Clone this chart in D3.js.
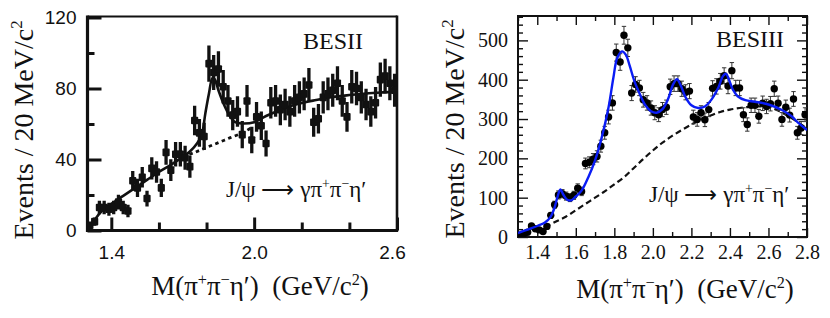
<!DOCTYPE html>
<html>
<head>
<meta charset="utf-8">
<script src="https://cdn.jsdelivr.net/npm/d3@7"></script>
<style>
html,body{margin:0;padding:0;background:#fff;}
svg{display:block;}
</style>
</head>
<body>
<svg id="chart" width="830" height="318"></svg>
<script>
// ---------------- DATA ----------------
// Left panel (BESII)
const besiiMass = [1.31,1.33,1.35,1.37,1.39,1.41,1.43,1.45,1.47,1.49,1.51,1.53,1.55,1.57,1.59,1.61,1.63,1.65,1.67,1.69,
  1.71,1.73,1.75,1.77,1.79,1.81,1.83,1.85,1.87,1.89,1.91,1.93,1.95,1.97,1.99,2.01,2.03,2.05,2.07,2.09,
  2.11,2.13,2.15,2.17,2.19,2.21,2.23,2.25,2.27,2.29,2.31,2.33,2.35,2.37,2.39,2.41,2.43,2.45,2.47,2.49,
  2.51,2.53,2.55,2.57,2.59];
const besiiEvents = [3,5,13,13,12,13,16,13,11,28,24,30,18,35,33,24,44,34,43,43,
  41,36,62,55,53,94,89,91,81,73,65,67,54,73,51,64,59,49,72,73,
  68,71,67,73,75,77,82,61,63,75,77,79,83,73,64,81,80,75,71,67,
  72,85,87,83,79];
const besiiFitMass = [1.30,1.33,1.36,1.40,1.45,1.50,1.55,1.60,1.65,1.70,1.73,1.76,1.78,1.795,1.81,1.825,1.835,1.85,1.873,1.90,
  1.92,1.95,2.00,2.05,2.12,2.19,2.26,2.33,2.40,2.47,2.54,2.60];
const besiiFitValue = [0.5,6,11,15,19.5,24,28.5,33,37,41.5,44.5,49,54,66,77,86,85,79,71,64,
  61,60.3,61,64.5,68.5,71.5,73.5,75.2,76.3,77.2,77.8,78.2];
const besiiBkgMass = [1.70,1.75,1.80,1.85,1.90,1.95,1.99];
const besiiBkgValue = [41.5,44,46.8,49.5,52.3,55,58];
const besiiYTicks = [0,40,80,120];
const besiiYMinor = [20,60,100];
const besiiXTicks = [1.4,2.0,2.6];
const besiiXMinor = [1.6,1.8,2.2,2.4];

// Right panel (BESIII)
const besiiiMass = [1.31,1.33,1.35,1.37,1.39,1.41,1.43,1.45,1.47,1.49,1.51,1.53,1.55,1.57,1.59,1.61,1.63,1.65,1.67,1.69,
  1.71,1.73,1.75,1.77,1.79,1.81,1.83,1.85,1.87,1.89,1.91,1.93,1.95,1.97,1.99,2.01,2.03,2.05,2.07,2.09,
  2.11,2.13,2.15,2.17,2.19,2.21,2.23,2.25,2.27,2.29,2.31,2.33,2.35,2.37,2.39,2.41,2.43,2.45,2.47,2.49,
  2.51,2.53,2.55,2.57,2.59,2.61,2.63,2.65,2.67,2.69,2.71,2.73,2.75,2.77,2.79];
const besiiiEvents = [4,8,12,28,21,18,14,27,55,82,107,110,104,100,106,124,116,187,190,198,
  205,231,265,305,341,469,445,513,481,366,388,379,349,341,328,316,311,324,330,382,
  390,390,377,368,371,305,299,316,298,324,378,383,396,410,384,423,379,379,311,286,
  335,335,307,340,332,339,377,340,299,330,310,351,265,277,311];
const besiiiFitMass = [1.30,1.35,1.40,1.44,1.47,1.49,1.505,1.52,1.535,1.555,1.575,1.60,1.63,1.665,1.70,1.735,1.77,1.795,1.815,1.84,
  1.86,1.88,1.905,1.93,1.96,1.99,2.02,2.05,2.08,2.105,2.125,2.145,2.17,2.20,2.235,2.27,2.305,2.34,2.365,2.38,
  2.395,2.415,2.44,2.48,2.53,2.60,2.67,2.72,2.755,2.80];
const besiiiFitValue = [10,19,28,37,52,75,102,121,108,95,93,103,118,152,195,254,330,405,455,472,
  463,435,395,366,336,320,316,325,352,388,401,385,355,335,328,332,350,380,410,415,
  400,375,358,348,344,337,323,307,290,272];
const besiiiBkgMass = [1.44,1.50,1.55,1.60,1.65,1.70,1.75,1.80,1.85,1.90,1.95,2.00,2.05,2.10,2.15,2.20,2.25,2.30,2.35,2.40,
  2.45,2.50,2.55,2.60,2.65,2.70,2.75,2.80];
const besiiiBkgValue = [25,40,52,68,84,100,116,134,152,175,198,220,240,257,272,286,299,309,318,324,
  328,331,332,330,322,308,293,275];
const besiiiYTicks = [0,100,200,300,400,500];
const besiiiXTicks = [1.4,1.6,1.8,2.0,2.2,2.4,2.6,2.8];

// ---------------- DRAW ----------------
const svg = d3.select('#chart');
const SERIF = '"Liberation Serif","Times New Roman",Times,serif';
const SANS = '"Liberation Sans",Arial,Helvetica,sans-serif';

function rich(g, parts, size) {
  const t = g.append('text').attr('font-size', size);
  let shift = 0;
  parts.forEach(([s, sup]) => {
    const target = sup ? -0.38 * size : 0;
    t.append('tspan')
      .attr('dy', target - shift)
      .attr('font-size', sup ? size * 0.6 : size)
      .text(s);
    shift = target;
  });
  return t;
}
const yTitleParts = [['Events / 20 MeV/c'], ['2', true]];
const xTitleParts = [['M(\u03c0'], ['+', true], ['\u03c0'], ['\u2212', true], ['\u03b7\u2032)\u00a0\u00a0(GeV/c'], ['2', true], [')']];
const decayParts = [['J/\u03c8 \u27f6 \u03b3\u03c0'], ['+', true], ['\u03c0'], ['\u2212', true], ['\u03b7\u2032']];

// ===== Left panel =====
{
  const L = {x0: 87.5, x1: 397, y0: 230.5, y1: 16.5};
  const x = d3.scaleLinear().domain([1.3, 2.6]).range([L.x0, L.x1]);
  const y = d3.scaleLinear().domain([0, 120]).range([L.y0, 17.5]);
  const g = svg.append('g');

  const ax = (gen, tr) => {
    const a = g.append('g').attr('transform', tr).call(gen);
    a.select('.domain').remove();
    a.selectAll('line').attr('stroke', '#111').attr('stroke-width', 3);
    a.selectAll('text').attr('font-family', SANS).attr('fill', '#111');
    return a;
  };
  ax(d3.axisLeft(y).tickValues(besiiYTicks).tickSize(-14).tickPadding(11).tickFormat(d3.format('d')), `translate(${L.x0},0)`)
    .selectAll('text').attr('font-size', 19);
  ax(d3.axisLeft(y).tickValues(besiiYMinor).tickSize(-7).tickFormat(''), `translate(${L.x0},0)`);
  const xa = ax(d3.axisBottom(x).tickValues(besiiXTicks).tickSize(-13).tickPadding(15).tickFormat(d3.format('.1f')), `translate(0,${L.y0})`);
  xa.selectAll('text').attr('font-size', 19).attr('dx', d => d === 2.6 ? -5 : 0);
  ax(d3.axisBottom(x).tickValues(besiiXMinor).tickSize(-8).tickFormat(''), `translate(0,${L.y0})`);

  // frame
  g.append('line').attr('x1', L.x0).attr('x2', L.x1).attr('y1', L.y1).attr('y2', L.y1).attr('stroke', '#111').attr('stroke-width', 2.2);
  g.append('line').attr('x1', L.x1).attr('x2', L.x1).attr('y1', L.y1 - 1).attr('y2', L.y0 + 1).attr('stroke', '#111').attr('stroke-width', 2.6);
  g.append('line').attr('x1', L.x0).attr('x2', L.x0).attr('y1', L.y1 - 1).attr('y2', L.y0 + 1.5).attr('stroke', '#111').attr('stroke-width', 3.2);
  g.append('line').attr('x1', L.x0 - 1.5).attr('x2', L.x1 + 1).attr('y1', L.y0).attr('y2', L.y0).attr('stroke', '#111').attr('stroke-width', 3.2);

  const pts = besiiMass.map((m, i) => ({m, v: besiiEvents[i]}));
  g.append('clipPath').attr('id', 'clipL').append('rect')
    .attr('x', L.x0).attr('y', L.y1).attr('width', L.x1 - L.x0).attr('height', L.y0 - L.y1);
  const dg = g.append('g').attr('clip-path', 'url(#clipL)');

  const line = d3.line().x(d => x(d[0])).y(d => y(d[1])).curve(d3.curveCatmullRom.alpha(0.5));
  dg.append('path').datum(besiiBkgMass.map((m, i) => [m, besiiBkgValue[i]]))
    .attr('d', line).attr('fill', 'none').attr('stroke', '#111').attr('stroke-width', 2.8)
    .attr('stroke-dasharray', '3.5,3.5');
  dg.append('path').datum(besiiFitMass.map((m, i) => [m, besiiFitValue[i]]))
    .attr('d', line).attr('fill', 'none').attr('stroke', '#111').attr('stroke-width', 2.6);

  dg.selectAll('line.eb').data(pts).join('line').attr('class', 'eb')
    .attr('x1', d => x(d.m)).attr('x2', d => x(d.m))
    .attr('y1', d => y(d.v + Math.sqrt(d.v) * 1.05)).attr('y2', d => y(Math.max(0, d.v - Math.sqrt(d.v) * 1.05)))
    .attr('stroke', '#111').attr('stroke-width', 3.3);
  dg.selectAll('rect.pt').data(pts).join('rect').attr('class', 'pt')
    .attr('x', d => x(d.m) - 3.6).attr('y', d => y(d.v) - 3.8)
    .attr('width', 7.2).attr('height', 7.6).attr('rx', 1)
    .attr('fill', '#111');

  g.append('text').attr('x', 303).attr('y', 48.5).attr('font-family', SERIF).attr('font-size', 24).attr('fill', '#111').text('BESII');
  rich(g, decayParts, 23).attr('x', 226).attr('y', 197).attr('font-family', SERIF).attr('fill', '#111');
  rich(g, yTitleParts, 28).attr('font-family', SERIF).attr('fill', '#111')
    .attr('text-anchor', 'middle').attr('transform', 'translate(33,130) rotate(-90)');
  rich(g, xTitleParts, 27).attr('font-family', SERIF).attr('fill', '#111')
    .attr('text-anchor', 'middle').attr('x', 260).attr('y', 295);
}

// ===== Right panel =====
{
  const R = {x0: 518, x1: 807, y0: 237, y1: 16};
  const x = d3.scaleLinear().domain([1.3, 2.8]).range([R.x0, R.x1]);
  const y = d3.scaleLinear().domain([0, 562]).range([R.y0, R.y1]);
  const g = svg.append('g');

  const ax = (gen, tr) => {
    const a = g.append('g').attr('transform', tr).call(gen);
    a.select('.domain').remove();
    a.selectAll('line').attr('stroke', '#111').attr('stroke-width', 1.4);
    a.selectAll('text').attr('font-family', SERIF).attr('fill', '#111');
    return a;
  };
  const yMinor = y.ticks(28).filter(v => v % 100 !== 0);
  const xMinor = x.ticks(15).filter(v => Math.abs(v * 10 % 2) > 0.5);
  ax(d3.axisLeft(y).tickValues(besiiiYTicks).tickSize(-10).tickPadding(10).tickFormat(d3.format('d')), `translate(${R.x0},0)`)
    .selectAll('text').attr('font-size', 20);
  ax(d3.axisLeft(y).tickValues(yMinor).tickSize(-5).tickFormat(''), `translate(${R.x0},0)`);
  ax(d3.axisRight(y).tickValues(besiiiYTicks).tickSize(-10).tickFormat(''), `translate(${R.x1},0)`);
  ax(d3.axisRight(y).tickValues(yMinor).tickSize(-5).tickFormat(''), `translate(${R.x1},0)`);
  ax(d3.axisBottom(x).tickValues(besiiiXTicks).tickSize(-9).tickPadding(8).tickFormat(d3.format('.1f')), `translate(0,${R.y0})`)
    .selectAll('text').attr('font-size', 20);
  ax(d3.axisBottom(x).tickValues(xMinor).tickSize(-5).tickFormat(''), `translate(0,${R.y0})`);
  ax(d3.axisTop(x).tickValues(besiiiXTicks).tickSize(-9).tickFormat(''), `translate(0,${R.y1})`);
  ax(d3.axisTop(x).tickValues(xMinor).tickSize(-5).tickFormat(''), `translate(0,${R.y1})`);

  g.append('rect').attr('x', R.x0).attr('y', R.y1).attr('width', R.x1 - R.x0).attr('height', R.y0 - R.y1)
    .attr('fill', 'none').attr('stroke', '#111').attr('stroke-width', 2);

  g.append('clipPath').attr('id', 'clipR').append('rect')
    .attr('x', R.x0).attr('y', R.y1).attr('width', R.x1 - R.x0).attr('height', R.y0 - R.y1);
  const dg = g.append('g').attr('clip-path', 'url(#clipR)');
  const line = d3.line().x(d => x(d[0])).y(d => y(d[1])).curve(d3.curveCatmullRom.alpha(0.5));

  dg.append('path').datum(besiiiBkgMass.map((m, i) => [m, besiiiBkgValue[i]]))
    .attr('d', line).attr('fill', 'none').attr('stroke', '#111').attr('stroke-width', 2.2)
    .attr('stroke-dasharray', '6,3.5');

  const pts = besiiiMass.map((m, i) => ({m, v: besiiiEvents[i]}));
  const eb = dg.selectAll('g.eb').data(pts).join('g').attr('class', 'eb')
    .attr('stroke', '#333').attr('stroke-width', 1);
  eb.append('line').attr('x1', d => x(d.m)).attr('x2', d => x(d.m))
    .attr('y1', d => y(d.v + Math.sqrt(d.v))).attr('y2', d => y(Math.max(0, d.v - Math.sqrt(d.v))));
  eb.append('line').attr('x1', d => x(d.m) - 2.2).attr('x2', d => x(d.m) + 2.2)
    .attr('y1', d => y(d.v + Math.sqrt(d.v))).attr('y2', d => y(d.v + Math.sqrt(d.v)));
  eb.append('line').attr('x1', d => x(d.m) - 2.2).attr('x2', d => x(d.m) + 2.2)
    .attr('y1', d => y(d.v - Math.sqrt(d.v))).attr('y2', d => y(d.v - Math.sqrt(d.v)));
  dg.selectAll('circle.pt').data(pts).join('circle').attr('class', 'pt')
    .attr('cx', d => x(d.m)).attr('cy', d => y(d.v)).attr('r', 3.7).attr('fill', '#000');

  dg.append('path').datum(besiiiFitMass.map((m, i) => [m, besiiiFitValue[i]]))
    .attr('d', line).attr('fill', 'none').attr('stroke', '#0a1cf5').attr('stroke-width', 2.4);

  g.append('text').attr('x', 716).attr('y', 47).attr('font-family', SERIF).attr('font-size', 24).attr('fill', '#111').text('BESIII');
  rich(g, decayParts, 23).attr('x', 649).attr('y', 202).attr('font-family', SERIF).attr('fill', '#111');
  rich(g, yTitleParts, 28).attr('font-family', SERIF).attr('fill', '#111')
    .attr('text-anchor', 'middle').attr('transform', 'translate(464,129) rotate(-90)');
  rich(g, xTitleParts, 27).attr('font-family', SERIF).attr('fill', '#111')
    .attr('text-anchor', 'middle').attr('x', 685).attr('y', 298);
}
</script>
</body>
</html>
